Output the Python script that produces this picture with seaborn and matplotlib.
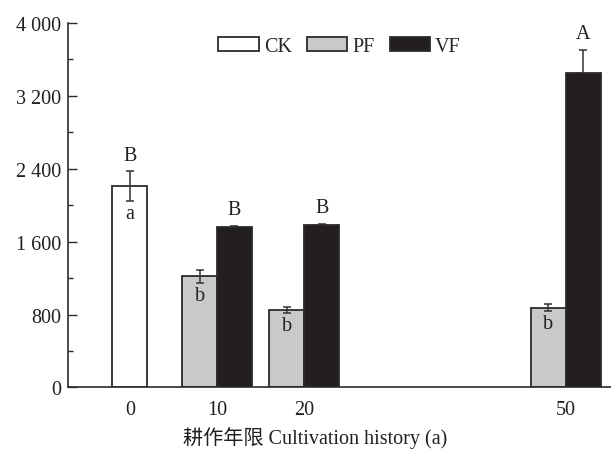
import numpy as np
import pandas as pd
import matplotlib
matplotlib.use("Agg")
import matplotlib.pyplot as plt
import seaborn as sns
from matplotlib.patches import Patch
from matplotlib.ticker import FixedLocator, MultipleLocator

# Cultivation history (years) and treatment values
ck_years = [0]
ck_values = [2207]
ck_err = [165]
ck_upper = ["B"]
ck_lower = ["a"]

pf_years = [10, 20, 50]
pf_values = [1219, 849, 874]
pf_err = [72, 36, 38]
pf_lower = ["b", "b", "b"]

vf_years = [10, 20, 50]
vf_values = [1765, 1787, 3447]
vf_err = [12, 10, 260]
vf_upper = ["B", "B", "A"]

treatments = ["CK", "PF", "VF"]
colors = {"CK": "#ffffff", "PF": "#c8c9cb", "VF": "#231f20"}
y_ticks = [0, 800, 1600, 2400, 3200, 4000]
y_tick_labels = ["0", "800", "1 600", "2 400", "3 200", "4 000"]
x_ticks = [0, 10, 20, 50]

half = 2.0  # half bar width in years; PF/VF sit side by side around the year

df = pd.DataFrame({
    "pos": list(np.array(ck_years, float))
           + list(np.array(pf_years, float) - half)
           + list(np.array(vf_years, float) + half),
    "value": ck_values + pf_values + vf_values,
    "err": ck_err + pf_err + vf_err,
    "treatment": ["CK"] * len(ck_years) + ["PF"] * len(pf_years) + ["VF"] * len(vf_years),
})

sns.set_theme(style="ticks")
plt.rcParams["font.family"] = ["Liberation Serif", "Noto Sans CJK SC"]

fig = plt.figure(figsize=(6.11, 4.60), dpi=100)
ax = fig.add_axes([0.1113, 0.1555, 0.8887, 0.7925])

sns.barplot(data=df, x="pos", y="value", hue="treatment", hue_order=treatments,
            palette=colors, native_scale=True, dodge=False, width=1.0,
            saturation=1, errorbar=None, edgecolor="#2b2b2b", linewidth=1.3,
            legend=False, ax=ax)

# error bars: light bars show the whole bar, the black bars cover their lower half
light = df[df["treatment"] != "VF"]
dark = df[df["treatment"] == "VF"]
ax.errorbar(light["pos"], light["value"], yerr=light["err"], fmt="none",
            ecolor="#333333", elinewidth=1.1, capsize=3.0, capthick=1.1, zorder=5)
ax.errorbar(dark["pos"], dark["value"], yerr=dark["err"], fmt="none",
            ecolor="#333333", elinewidth=1.1, capsize=3.0, capthick=1.1, zorder=0.5)

# significance letters
def upper_letters(years_pos, vals, errs, letters):
    for x, v, e, t in zip(years_pos, vals, errs, letters):
        ax.annotate(t, (x, v + e), xytext=(0, 4.5), textcoords="offset points",
                    ha="center", va="bottom", fontsize=14.5, color="#231f20")

def lower_letters(years_pos, vals, errs, letters):
    for x, v, e, t in zip(years_pos, vals, errs, letters):
        ax.annotate(t, (x, v - e), xytext=(0, -2), textcoords="offset points",
                    ha="center", va="top", fontsize=14.5, color="#231f20")

upper_letters(ck_years, ck_values, ck_err, ck_upper)
lower_letters(ck_years, ck_values, ck_err, ck_lower)
lower_letters(np.array(pf_years) - half, pf_values, pf_err, pf_lower)
upper_letters(np.array(vf_years) + half, vf_values, vf_err, vf_upper)

ax.set_xlim(-7.1, 55.2)
ax.set_ylim(0, 4000)
ax.set_xticks(x_ticks)
ax.set_xticklabels([str(v) for v in x_ticks], fontsize=14.5)
ax.yaxis.set_major_locator(FixedLocator(y_ticks))
ax.set_yticklabels(y_tick_labels, fontsize=14.5)
ax.yaxis.set_minor_locator(MultipleLocator(400))
ax.tick_params(axis="y", which="major", direction="in", length=6.5, width=1.0,
               pad=5, color="#2b2b2b", labelcolor="#231f20")
ax.tick_params(axis="y", which="minor", direction="in", length=3.5, width=1.0,
               color="#2b2b2b")
ax.tick_params(axis="x", length=0, pad=9, labelcolor="#231f20")

for side in ["top", "right"]:
    ax.spines[side].set_visible(False)
for side in ["left", "bottom"]:
    ax.spines[side].set_linewidth(1.2)
    ax.spines[side].set_color("#2b2b2b")

ax.set_ylabel("")
ax.set_xlabel("耕作年限 Cultivation history (a)", fontsize=14.5, color="#231f20")
ax.xaxis.set_label_coords(0.455, -0.105)

handles = [Patch(facecolor=colors[t], edgecolor="#2b2b2b", linewidth=1.3, label=t)
           for t in treatments]
ax.legend(handles=handles, loc="center", bbox_to_anchor=(0.5, 0.935), ncol=3,
          frameon=False, fontsize=14.5, handlelength=2.0, handleheight=0.65,
          handletextpad=0.25, columnspacing=0.75, borderpad=0)

fig.savefig("out.png", dpi=100)
